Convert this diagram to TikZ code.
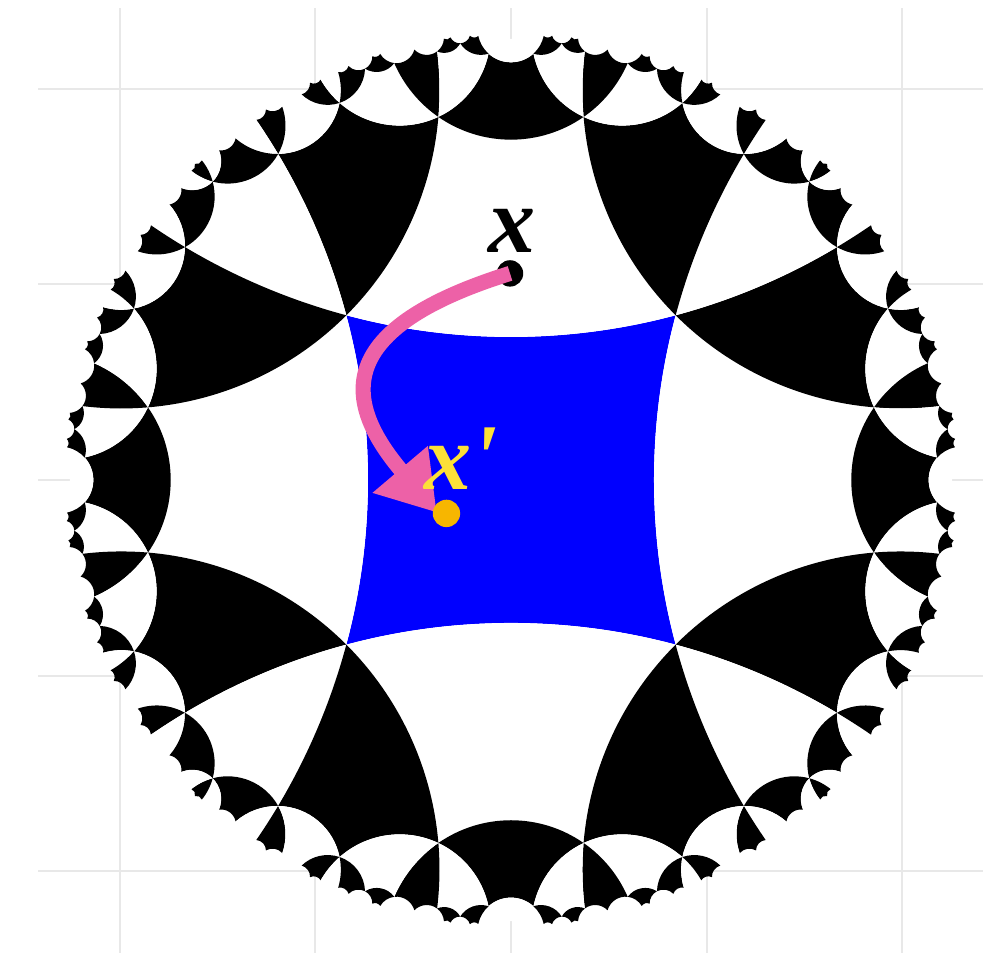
\documentclass[tikz,border=0pt]{standalone}
\usepackage{amsmath,amssymb}
\usepackage{fontspec}
\usepackage{xcolor}
\usepackage{tikz}
\usetikzlibrary{arrows.meta}

\newfontfamily\labelfont{Liberation Serif}

\definecolor{tileblue}{RGB}{0,0,255}
\definecolor{movepink}{RGB}{237,97,167}
\definecolor{imageyellow}{RGB}{252,224,56}
\definecolor{imagedot}{RGB}{247,182,0}
\definecolor{gridgray}{RGB}{232,232,232}

% {4,6} tiling of the disk: faces are words in the four side reflections
\def\DiskR{2.3}
\def\rDrawSq{0.9604}
\def\rCutSq{0.98500}
\def\MaxDepth{8}
\def\Vh{0.3660254037844386}
\def\Gp{1.224744871391589}
\def\Gq{0.7071067811865476}

% image of the point #1+i#2 under the current face map
\newcommand\MobPt[3]{%
  \ifnum\tPty=1 \edef\mWi{\fpeval{-(#2)}}\else\edef\mWi{#2}\fi
  \edef\mWr{#1}%
  \edef\mNr{\fpeval{(\tAr)*(\mWr)-(\tAi)*(\mWi)+(\tBr)}}%
  \edef\mNi{\fpeval{(\tAr)*(\mWi)+(\tAi)*(\mWr)+(\tBi)}}%
  \edef\mDr{\fpeval{(\tBr)*(\mWr)+(\tBi)*(\mWi)+(\tAr)}}%
  \edef\mDi{\fpeval{(\tBr)*(\mWi)-(\tBi)*(\mWr)-(\tAi)}}%
  \edef\mDD{\fpeval{(\mDr)^2+(\mDi)^2}}%
  \expandafter\edef\csname #3x\endcsname{\fpeval{((\mNr)*(\mDr)+(\mNi)*(\mDi))/(\mDD)}}%
  \expandafter\edef\csname #3y\endcsname{\fpeval{((\mNi)*(\mDr)-(\mNr)*(\mDi))/(\mDD)}}%
}

% geodesic arc from vertex #1 to vertex #2
\newcommand\GeoArc[2]{%
  \edef\gPx{\csname #1x\endcsname}\edef\gPy{\csname #1y\endcsname}%
  \edef\gQx{\csname #2x\endcsname}\edef\gQy{\csname #2y\endcsname}%
  \edef\gHp{\fpeval{(1+(\gPx)^2+(\gPy)^2)/2}}%
  \edef\gHq{\fpeval{(1+(\gQx)^2+(\gQy)^2)/2}}%
  \edef\gDet{\fpeval{(\gPx)*(\gQy)-(\gPy)*(\gQx)}}%
  \edef\gCx{\fpeval{((\gHp)*(\gQy)-(\gHq)*(\gPy))/(\gDet)}}%
  \edef\gCy{\fpeval{((\gPx)*(\gHq)-(\gQx)*(\gHp))/(\gDet)}}%
  \edef\gA{\fpeval{atand((\gPy)-(\gCy),(\gPx)-(\gCx))}}%
  \edef\gB{\fpeval{atand((\gQy)-(\gCy),(\gQx)-(\gCx))}}%
  \edef\gD{\fpeval{(\gB)-(\gA)}}%
  \edef\gD{\fpeval{(\gD)>180 ? (\gD)-360 : ((\gD)<-180 ? (\gD)+360 : (\gD))}}%
  \edef\gArc{arc[start angle=\fpeval{round(\gA,4)},delta angle=\fpeval{round(\gD,4)},radius=\fpeval{round(\DiskR*sqrt((\gCx)^2+(\gCy)^2-1),5)}]}%
}

\newcommand\DrawFace{%
  \edef\fKey{\fpeval{round(((\tBr)*(\tAr)-(\tBi)*(\tAi))/((\tAr)^2+(\tAi)^2),4)}@%
    \fpeval{round(((\tBr)*(\tAi)+(\tBi)*(\tAr))/((\tAr)^2+(\tAi)^2),4)}}%
  \ifcsname seen@\fKey\endcsname\else
    \expandafter\gdef\csname seen@\fKey\endcsname{}%
    \MobPt{\Vh}{\Vh}{fva}\MobPt{-\Vh}{\Vh}{fvb}%
    \MobPt{-\Vh}{-\Vh}{fvc}\MobPt{\Vh}{-\Vh}{fvd}%
    \GeoArc{fva}{fvb}\let\arcAB\gArc
    \GeoArc{fvb}{fvc}\let\arcBC\gArc
    \GeoArc{fvc}{fvd}\let\arcCD\gArc
    \GeoArc{fvd}{fva}\let\arcDA\gArc
    \ifnum\tDep=0 \def\faceStyle{centre face}\else
      \ifodd\tDep\relax \def\faceStyle{light face}\else\def\faceStyle{dark face}\fi\fi
    \edef\faceCmd{\noexpand\fill[\faceStyle]
      (\fpeval{round(\DiskR*\fvax,5)},\fpeval{round(\DiskR*\fvay,5)})
      \arcAB\arcBC\arcCD\arcDA -- cycle;}%
    \faceCmd
  \fi}

\newcommand\BranchGo[1]{%
  \ifnum\tPty=0 \def\gBi{-\Gq}\else\def\gBi{\Gq}\fi
  \ifcase#1\or
    \ifnum\tPty=0 \def\gAr{0}\def\gAi{\Gp}\else\def\gAr{0}\def\gAi{-\Gp}\fi
  \or \def\gAr{-\Gp}\def\gAi{0}%
  \or
    \ifnum\tPty=0 \def\gAr{0}\def\gAi{-\Gp}\else\def\gAr{0}\def\gAi{\Gp}\fi
  \or \def\gAr{\Gp}\def\gAi{0}%
  \fi
  \edef\tNext{\noexpand\Tile{\the\numexpr\tDep+1\relax}%
    {\fpeval{(\tAr)*(\gAr)-(\tAi)*(\gAi)+(\tBi)*(\gBi)}}%
    {\fpeval{(\tAr)*(\gAi)+(\tAi)*(\gAr)-(\tBr)*(\gBi)}}%
    {\fpeval{-(\tAi)*(\gBi)+(\tBr)*(\gAr)+(\tBi)*(\gAi)}}%
    {\fpeval{(\tAr)*(\gBi)+(\tBi)*(\gAr)-(\tBr)*(\gAi)}}%
    {\the\numexpr1-\tPty\relax}{#1}{\tLst}}%
  \tNext}

\newcommand\Branch[1]{%
  \def\bOk{1}%
  \ifnum#1=\tLst\relax \def\bOk{0}\fi
  \ifnum#1=\tPrv\relax
    \ifnum\tLst<#1\relax
      \ifodd\numexpr#1+\tLst\relax \def\bOk{0}\fi
    \fi
  \fi
  \ifnum\bOk=1 \BranchGo{#1}\fi}

\newcommand\Tile[8]{%
  \begingroup
  \def\tDep{#1}\def\tAr{#2}\def\tAi{#3}\def\tBr{#4}\def\tBi{#5}%
  \def\tPty{#6}\def\tLst{#7}\def\tPrv{#8}%
  \edef\tRr{\fpeval{round(((\tBr)^2+(\tBi)^2)/((\tAr)^2+(\tAi)^2),8)}}%
  \ifdim\tRr pt<\rCutSq pt
    \ifdim\tRr pt<\rDrawSq pt \DrawFace\fi
    \ifnum\tDep<\MaxDepth\relax
      \Branch1\Branch2\Branch3\Branch4%
    \fi
  \fi
  \endgroup}

\begin{document}
\begin{tikzpicture}[x=1cm, y=1cm,
    dark face/.style={fill=black},
    light face/.style={fill=white},
    centre face/.style={fill=tileblue},
    grid line/.style={gridgray, line width=0.3pt},
    point dot/.style={circle, inner sep=0pt, minimum size=0.135cm},
    point label/.style={inner sep=0pt, font=\labelfont\fontsize{13.7}{16}\selectfont\bfseries\itshape}]
\useasboundingbox (-2.6125,-2.454) rectangle (2.4438,2.454);

% grid behind the disk
\foreach \g in {-2,...,2} {
  \draw[grid line] (\g,-2.418) -- (\g,2.413);
  \draw[grid line] (-2.418,\g) -- (2.413,\g);
}

% tiles
\Tile{0}{1}{0}{0}{0}{0}{0}{0}

% x and its image x'
\node[point dot, fill=black] (xdot) at (-0.005,1.056) {};
\node[point label, anchor=base west] (xlab) at (-0.123,1.161) {x};
\coordinate (xtip) at (-0.379,-0.167);
\draw[movepink, line width=2.2pt, -{Triangle[length=0.29cm, width=0.35cm]}]
  (xdot.center) .. controls +(-0.906,-0.283) and +(-0.485,0.572) .. (xtip);
\node[point dot, fill=imagedot, minimum size=0.14cm] (xpdot) at (-0.330,-0.171) {};
\node[point label, anchor=base west, text=imageyellow] (xplab) at (-0.45,-0.051) {x\textquotesingle};
\end{tikzpicture}
\end{document}
